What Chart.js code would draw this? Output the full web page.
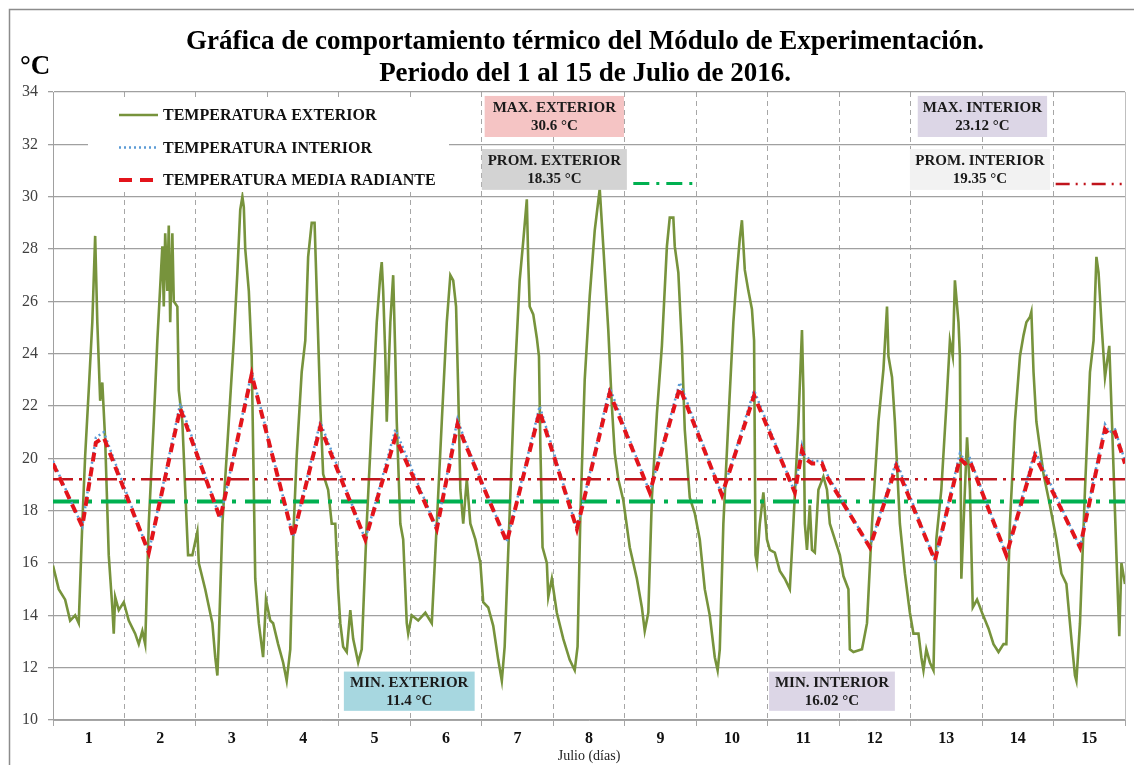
<!DOCTYPE html>
<html>
<head>
<meta charset="utf-8">
<script src="https://cdn.jsdelivr.net/npm/chart.js@4.4.1/dist/chart.umd.min.js"></script>
<style>
  html, body { margin: 0; padding: 0; background: #fff; }
</style>
</head>
<body>
<canvas id="grafica" width="1134" height="765"></canvas>
<script>
// ============================================================================
// DATOS
// ============================================================================
const etiquetasDias = ["1","2","3","4","5","6","7","8","9","10","11","12","13","14","15"];

// Temperatura exterior: [día, °C]
const extDias = [
  0.00,0.08,0.17,0.24,0.31,0.36,0.41,0.45,0.50,0.55,0.59,0.62,0.66,0.69,0.73,0.78,0.83,0.85,0.87,0.92,0.99,
  1.06,1.15,1.20,1.25,1.29,1.34,1.41,1.46,1.53,1.55,1.57,1.60,1.62,1.64,1.67,1.69,1.74,1.76,1.81,1.85,1.89,1.95,
  2.02,2.04,2.13,2.23,2.27,2.30,2.32,2.37,2.46,2.53,2.58,2.62,2.65,2.67,2.69,2.74,2.78,2.81,2.83,2.88,2.94,2.98,
  3.04,3.08,3.15,3.22,3.27,3.32,3.36,3.41,3.48,3.53,3.57,3.62,3.66,3.69,3.74,3.78,3.85,3.90,3.95,3.99,
  4.02,4.06,4.11,4.16,4.20,4.27,4.32,4.39,4.46,4.53,4.58,4.60,4.62,4.65,4.67,4.72,4.76,4.79,4.81,4.86,4.90,4.95,4.97,
  5.02,5.11,5.21,5.30,5.37,5.44,5.51,5.56,5.60,5.64,5.67,5.70,5.74,5.79,5.84,5.91,5.98,
  6.02,6.09,6.16,6.23,6.28,6.32,6.39,6.46,6.53,6.58,6.63,6.65,6.67,6.72,6.77,6.80,6.82,6.85,6.91,6.93,6.98,
  7.05,7.14,7.23,7.30,7.34,7.38,7.44,7.51,7.58,7.65,7.70,7.77,7.82,7.86,7.91,7.98,
  8.07,8.17,8.24,8.28,8.33,8.38,8.45,8.52,8.59,8.63,8.68,8.70,8.75,8.80,8.84,8.91,8.98,
  9.05,9.12,9.19,9.26,9.30,9.33,9.38,9.45,9.52,9.57,9.61,9.64,9.68,9.73,9.78,9.81,9.83,9.85,9.89,9.94,9.99,
  10.03,10.10,10.17,10.24,10.31,10.36,10.43,10.48,10.50,10.52,10.55,10.59,10.62,10.66,10.71,10.78,10.83,10.87,10.94,
  11.01,11.06,11.13,11.15,11.20,11.32,11.39,11.46,11.55,11.62,11.67,11.69,11.74,11.78,11.85,11.92,11.99,
  12.04,12.11,12.15,12.18,12.22,12.27,12.32,12.36,12.43,12.50,12.55,12.59,12.62,12.67,12.69,12.71,12.76,12.79,12.83,12.87,12.93,
  13.00,13.09,13.16,13.23,13.30,13.34,13.39,13.46,13.53,13.58,13.62,13.67,13.69,13.72,13.76,13.86,13.95,
  14.04,14.11,14.18,14.25,14.30,14.32,14.37,14.44,14.51,14.56,14.60,14.63,14.67,14.72,14.78,14.81,14.88,14.92,14.95,15.00
];
const extTemp = [
  15.9,15.0,14.6,13.8,14.0,13.7,17.5,20.1,22.6,25.2,28.5,25.2,22.2,22.9,20.7,16.3,14.3,13.3,14.7,14.2,14.5,
  13.8,13.3,12.9,13.4,12.9,17.5,21.4,24.5,28.1,25.8,28.6,26.4,28.9,25.2,28.6,26.0,25.8,22.6,21.4,18.8,16.3,16.3,
  17.2,16.0,15.0,13.7,12.4,11.7,13.1,17.5,21.4,24.5,27.1,29.5,30.0,29.6,28.0,26.4,23.9,18.8,15.4,13.7,12.4,14.6,
  13.8,13.7,12.9,12.2,11.5,12.7,16.9,20.1,23.3,24.5,27.7,29.0,29.0,26.4,22.0,19.4,18.8,17.5,17.5,15.0,
  13.7,12.8,12.6,14.2,13.1,12.2,12.7,17.5,21.4,25.2,27.0,27.5,26.4,23.9,21.4,25.2,27.0,23.9,21.4,17.5,16.9,13.7,13.3,
  14.0,13.8,14.1,13.7,17.5,21.4,25.2,27.0,26.8,25.8,22.6,18.8,17.5,19.2,17.5,16.9,16.0,
  14.5,14.3,13.6,12.3,11.5,12.8,17.9,23.0,26.8,28.3,29.9,27.5,25.8,25.5,24.6,23.9,20.4,16.6,16.0,14.7,15.4,
  14.1,13.1,12.3,11.9,12.8,17.9,23.0,26.2,28.7,30.3,28.1,24.9,22.0,20.2,19.2,18.4,
  16.6,15.4,14.3,13.4,14.1,18.5,21.7,24.3,28.1,29.2,29.2,28.1,27.1,24.3,21.1,18.5,17.9,
  16.9,15.0,14.0,12.4,11.9,12.7,17.5,21.4,25.2,27.1,28.4,29.1,27.2,26.4,25.7,24.5,16.3,16.0,17.5,18.7,16.9,
  16.5,16.4,15.7,15.4,15.0,17.5,21.4,24.9,22.6,17.5,16.5,18.2,16.5,16.4,18.8,19.3,18.8,17.5,16.9,
  16.3,15.5,15.0,12.7,12.6,12.7,13.7,17.5,21.4,23.4,25.8,23.9,23.1,21.4,17.5,15.6,14.1,
  13.3,13.3,12.4,11.9,12.7,12.2,11.9,16.9,18.8,22.0,24.5,23.9,26.8,25.2,23.9,15.4,18.8,20.8,18.8,14.3,14.6,
  14.1,13.5,12.9,12.6,12.9,12.9,17.5,21.4,23.9,24.7,25.2,25.4,25.6,23.3,21.4,19.4,18.2,
  16.9,15.6,15.2,13.1,11.7,11.5,13.7,18.8,23.3,24.5,27.7,27.1,25.2,23.1,24.3,22.0,16.3,13.2,16.0,15.2
];

// Temperatura interior y media radiante: [día, °C]
const intDias = [
  0.00,0.41,0.60,0.71,1.34,1.78,2.34,2.78,3.36,3.74,4.37,4.79,5.37,5.66,5.76,6.35,6.81,7.33,7.79,8.35,8.77,
  9.36,9.81,10.38,10.48,10.52,10.62,10.76,10.83,11.43,11.80,12.34,12.69,12.76,12.83,13.34,13.74,14.37,14.72,14.78,14.86,15.00
];
const intTemp = [
  19.9,17.4,20.8,21.0,16.4,22.1,17.7,23.3,17.0,21.4,16.9,21.1,17.3,21.5,20.7,16.8,22.0,17.3,22.7,18.7,22.9,
  18.6,22.6,18.7,20.5,20.1,19.9,19.9,19.4,16.6,19.9,16.1,20.2,19.9,20.0,16.3,20.3,16.6,21.3,21.0,21.1,19.9
];
const radTemp = [
  19.8,17.4,20.6,20.8,16.4,21.9,17.7,23.2,17.0,21.2,16.9,20.8,17.3,21.3,20.6,16.8,21.8,17.3,22.5,18.7,22.7,
  18.6,22.4,18.7,20.3,20.0,19.8,19.8,19.3,16.6,19.7,16.1,20.0,19.8,19.9,16.3,20.1,16.6,21.1,20.9,21.0,19.8
];

// Promedios dibujados como líneas horizontales
const promExterior = 18.35;
const promInteriorLinea = 19.2;

// Cuadros de resumen
const resumenTitulos = ["MAX. EXTERIOR", "PROM. EXTERIOR", "MAX. INTERIOR", "PROM. INTERIOR", "MIN. EXTERIOR", "MIN. INTERIOR"];
const resumenValores = [30.6, 18.35, 23.12, 19.35, 11.4, 16.02];

// ============================================================================
// ESTILOS
// ============================================================================
const SERIF = "'Liberation Serif', 'Times New Roman', serif";
const colorExt = "#77933C";
const colorInt = "#5B9BD5";
const colorRad = "#E3141B";
const colorPromExt = "#00B050";
const colorPromInt = "#C0141C";
const dashRad = [9, 6];
const dashInt = [2, 3];
const dashPromExt = [26, 9, 4, 9];
const dashPromInt = [20, 6, 3, 6, 3, 6];

// Posición de cada cuadro (unidades de la gráfica) y su relleno
const cuadrosLayout = [
  { x0: 6.04,  x1: 7.99,  y0: 33.85, y1: 32.28, fill: "#F5C4C4" },
  { x0: 6.00,  x1: 8.03,  y0: 31.82, y1: 30.26, fill: "#D3D3D3" },
  { x0: 12.10, x1: 13.91, y0: 33.85, y1: 32.28, fill: "#DCD6E6" },
  { x0: 11.99, x1: 13.95, y0: 31.82, y1: 30.26, fill: "#F2F2F2" },
  { x0: 4.07,  x1: 5.90,  y0: 11.85, y1: 10.35, fill: "#A7D7E0" },
  { x0: 10.02, x1: 11.78, y0: 11.85, y1: 10.35, fill: "#DCD6E6" }
];

const pares = (xs, ys) => xs.map((x, i) => ({ x, y: ys[i] }));

// ============================================================================
// PLUGIN: fondo, títulos, leyenda y cuadros de texto
// ============================================================================
const decoracion = {
  id: "decoracion",
  beforeDraw(chart) {
    const { ctx, width, height } = chart;
    ctx.save();
    ctx.fillStyle = "#fff";
    ctx.fillRect(0, 0, width, height);
    // marco exterior
    ctx.strokeStyle = "#8C8C8C";
    ctx.lineWidth = 1.5;
    ctx.beginPath();
    ctx.moveTo(9.5, height);
    ctx.lineTo(9.5, 9.5);
    ctx.lineTo(width, 9.5);
    ctx.stroke();
    ctx.restore();
  },
  afterDraw(chart) {
    const { ctx, chartArea: ca } = chart;
    const sx = v => chart.scales.x.getPixelForValue(v);
    const sy = v => chart.scales.y.getPixelForValue(v);
    ctx.save();

    // borde derecho del área
    ctx.strokeStyle = "#BFBFBF";
    ctx.lineWidth = 1;
    ctx.beginPath();
    ctx.moveTo(ca.right + 0.5, ca.top);
    ctx.lineTo(ca.right + 0.5, ca.bottom);
    ctx.stroke();

    // título
    ctx.fillStyle = "#000";
    ctx.textAlign = "center";
    ctx.textBaseline = "middle";
    ctx.font = "bold 27px " + SERIF;
    ctx.fillText("Gráfica de comportamiento térmico del Módulo de Experimentación.", 585, 42);
    ctx.fillText("Periodo del 1 al 15 de Julio de 2016.", 585, 74);
    ctx.textAlign = "left";
    ctx.fillText("°C", 20, 67);

    // eje x
    ctx.textAlign = "center";
    ctx.font = "14px " + SERIF;
    ctx.fillStyle = "#222";
    ctx.fillText("Julio (días)", (ca.left + ca.right) / 2, 756);

    // leyenda
    ctx.fillStyle = "#fff";
    ctx.fillRect(ca.left + 35, ca.top + 8, 361, 92);
    const filas = [
      { txt: "TEMPERATURA EXTERIOR", color: colorExt, w: 2.6, dash: [] },
      { txt: "TEMPERATURA INTERIOR", color: colorInt, w: 2.5, dash: dashInt },
      { txt: "TEMPERATURA MEDIA RADIANTE", color: colorRad, w: 3.8, dash: [13, 8] }
    ];
    ctx.font = "bold 16px " + SERIF;
    ctx.textAlign = "left";
    filas.forEach((f, i) => {
      const y = ca.top + 23 + i * 32.5;
      ctx.strokeStyle = f.color;
      ctx.lineWidth = f.w;
      ctx.setLineDash(f.dash);
      ctx.beginPath();
      ctx.moveTo(ca.left + 66, y);
      ctx.lineTo(ca.left + 105, y);
      ctx.stroke();
      ctx.setLineDash([]);
      ctx.fillStyle = "#111";
      ctx.fillText(f.txt, ca.left + 110, y + 1);
    });

    // cuadros de resumen
    ctx.font = "bold 15px " + SERIF;
    ctx.textAlign = "center";
    cuadrosLayout.forEach((c, i) => {
      const x0 = sx(c.x0), x1 = sx(c.x1), y0 = sy(c.y0), y1 = sy(c.y1);
      ctx.fillStyle = c.fill;
      ctx.fillRect(x0, y0, x1 - x0, y1 - y0);
      ctx.fillStyle = "#1a1a1a";
      const cx = (x0 + x1) / 2;
      ctx.fillText(resumenTitulos[i], cx, y0 + 12);
      ctx.fillText(resumenValores[i] + " °C", cx, y0 + 30);
    });

    // muestras de las líneas de promedio
    ctx.lineWidth = 3;
    ctx.strokeStyle = colorPromExt;
    ctx.setLineDash([16, 7, 3, 7]);
    ctx.beginPath();
    ctx.moveTo(sx(8.12), sy(30.5));
    ctx.lineTo(sx(8.97), sy(30.5));
    ctx.stroke();
    ctx.strokeStyle = colorPromInt;
    ctx.lineWidth = 2.5;
    ctx.setLineDash([14, 6, 2, 6, 2, 6]);
    ctx.beginPath();
    ctx.moveTo(sx(14.03), sy(30.48));
    ctx.lineTo(sx(15.0), sy(30.48));
    ctx.stroke();
    ctx.restore();
  }
};

// ============================================================================
// GRÁFICA
// ============================================================================
new Chart(document.getElementById("grafica"), {
  type: "line",
  data: {
    datasets: [
      {
        label: "TEMPERATURA MEDIA RADIANTE",
        data: pares(intDias, radTemp),
        borderColor: colorRad,
        borderWidth: 4,
        borderDash: dashRad,
        order: 1
      },
      {
        label: "TEMPERATURA INTERIOR",
        data: pares(intDias, intTemp),
        borderColor: colorInt,
        borderWidth: 2.5,
        borderDash: dashInt,
        order: 2
      },
      {
        label: "PROM. INTERIOR",
        data: [{ x: 0, y: promInteriorLinea }, { x: 15, y: promInteriorLinea }],
        borderColor: colorPromInt,
        borderWidth: 2.5,
        borderDash: dashPromInt,
        order: 3
      },
      {
        label: "PROM. EXTERIOR",
        data: [{ x: 0, y: promExterior }, { x: 15, y: promExterior }],
        borderColor: colorPromExt,
        borderWidth: 4,
        borderDash: dashPromExt,
        order: 4
      },
      {
        label: "TEMPERATURA EXTERIOR",
        data: pares(extDias, extTemp),
        borderColor: colorExt,
        borderWidth: 2.6,
        order: 5
      }
    ]
  },
  options: {
    responsive: false,
    animation: false,
    devicePixelRatio: 1,
    layout: { padding: { top: 92, right: 9, left: 0, bottom: 0 } },
    elements: { point: { radius: 0 }, line: { tension: 0, fill: false } },
    plugins: {
      legend: { display: false },
      tooltip: { enabled: false },
      title: { display: false }
    },
    scales: {
      x: {
        type: "linear",
        min: 0,
        max: 15,
        afterFit: s => { s.height = 45; },
        grid: {
          color: c => (c.tick && Number.isInteger(c.tick.value) && c.tick.value > 0 && c.tick.value < 15) ? "#A6A6A6" : "rgba(0,0,0,0)",
          tickColor: c => (c.tick && Number.isInteger(c.tick.value)) ? "#A6A6A6" : "rgba(0,0,0,0)",
          lineWidth: 1,
          tickLength: 6
        },
        border: { display: true, color: "#A6A6A6", dash: [5, 4] },
        ticks: {
          stepSize: 0.5,
          autoSkip: false,
          maxRotation: 0,
          padding: 3,
          color: "#111",
          font: { family: SERIF, size: 16, weight: "bold" },
          callback: v => Number.isInteger(v) ? "" : etiquetasDias[Math.floor(v)]
        }
      },
      y: {
        min: 10,
        max: 34,
        afterFit: s => { s.width = 53; },
        grid: { color: "#A0A0A0", lineWidth: 1.3, tickLength: 5 },
        border: { display: true, color: "#A0A0A0" },
        ticks: {
          stepSize: 2,
          padding: 10,
          color: "#404040",
          font: { family: SERIF, size: 16 }
        }
      }
    }
  },
  plugins: [decoracion]
});
</script>
</body>
</html>
